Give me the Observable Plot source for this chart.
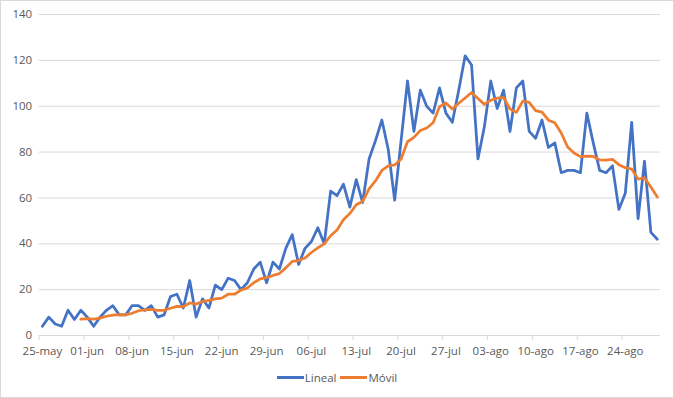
<!DOCTYPE html>
<html>
<head>
<meta charset="utf-8">
<script src="https://cdn.jsdelivr.net/npm/d3@7"></script>
<script src="https://cdn.jsdelivr.net/npm/@observablehq/plot@0.6"></script>
<style>
  html, body { margin: 0; padding: 0; background: #fff; }
  #chart { position: relative; width: 674px; height: 398px; outline: 1px solid #d9d9d9; outline-offset: -1px; background: #fff; font-family: "Open Sans", "Noto Sans", sans-serif; }
  #legend { position: absolute; left: 0; top: 369px; width: 674px; height: 16px; display: flex; justify-content: center; align-items: center; font-size: 11.5px; color: #595959; }
  .item { display: flex; align-items: center; margin: 0 2px; }
  .sw { width: 27px; height: 3px; margin-right: 1px; }
</style>
</head>
<body>
<div id="chart">
  <div id="legend"></div>
</div>
<script>
// Series names
const seriesNames = ["Lineal", "Móvil"];
const seriesColors = ["#4472C4", "#ED7D31"];

// Daily values from 25-may (one per day)
const lineal = [
  4, 8, 5, 4, 11, 7, 11, 8, 4, 8,
  11, 13, 9, 9, 13, 13, 11, 13, 8, 9,
  17, 18, 12, 24, 8, 16, 12, 22, 20, 25,
  24, 20, 23, 29, 32, 23, 32, 29, 38, 44,
  31, 38, 41, 47, 40, 63, 61, 66, 56, 68,
  58, 77, 85, 94, 81, 59, 85, 111, 89, 107,
  100, 97, 108, 97, 93, 107, 122, 118, 77, 91,
  111, 99, 107, 89, 108, 111, 89, 86, 94, 82,
  84, 71, 72, 72, 71, 97, 84, 72, 71, 74,
  55, 62, 93, 51, 76, 45, 42
];

// Moving average values, starting on the 7th day (31-may)
const movilOffset = 6;
const movil = [
  7.1, 7.4, 7.1, 7.6, 8.4, 8.9, 9.1, 9.0, 9.7, 10.8,
  11.2, 11.4, 11.0, 11.0, 11.9, 12.7, 12.6, 14.2, 13.7, 14.8,
  15.3, 16.0, 16.3, 18.0, 18.0, 19.8, 20.7, 23.0, 24.7, 25.2,
  26.2, 27.0, 29.5, 32.3, 32.7, 33.8, 36.2, 38.2, 40.0, 43.5,
  46.0, 50.5, 53.2, 57.0, 58.5, 64.0, 67.4, 72.0, 74.0, 74.4,
  77.0, 84.5, 86.4, 89.4, 90.5, 92.8, 99.8, 101.4, 98.8, 101.3,
  103.6, 106.0, 103.4, 100.8, 102.6, 103.5, 103.8, 98.8, 97.3, 102.2,
  101.7, 98.1, 97.4, 93.9, 92.8, 88.3, 82.2, 79.6, 78.0, 78.2,
  78.1, 76.6, 76.5, 76.8, 74.5, 73.2, 72.6, 68.2, 68.8, 64.8, 60.4
];

// Axis tick labels (weekly)
const xTickLabels = ["25-may","01-jun","08-jun","15-jun","22-jun","29-jun","06-jul","13-jul","20-jul","27-jul","03-ago","10-ago","17-ago","24-ago"];
const yTicks = [0, 20, 40, 60, 80, 100, 120, 140];

const DAY = 864e5;
const start = Date.UTC(2020, 4, 25);
const dateOf = i => new Date(start + i * DAY);

const linealData = lineal.map((v, i) => ({date: dateOf(i), value: v}));
const movilData = movil.map((v, i) => ({date: dateOf(i + movilOffset), value: v}));

const tickDates = xTickLabels.map((_, k) => dateOf(7 * k));
const labelMap = new Map(tickDates.map((d, k) => [+d, xTickLabels[k]]));
const boundaries = tickDates.map(d => new Date(+d - DAY / 2));

const plot = Plot.plot({
  width: 674,
  height: 362,
  marginLeft: 38.7,
  marginRight: 14,
  marginTop: 14,
  marginBottom: 27,
  style: {fontFamily: '"Open Sans", "Noto Sans", sans-serif', fontSize: "11.5px", color: "#595959", background: "transparent"},
  x: {type: "utc", domain: [new Date(start - DAY / 2), new Date(start + (lineal.length - 0.5) * DAY)]},
  y: {domain: [0, 140]},
  marks: [
    Plot.gridY(yTicks, {stroke: "#d9d9d9", strokeOpacity: 1}),
    Plot.axisY(yTicks, {tickSize: 0, tickPadding: 7, label: null, fill: "#595959"}),
    Plot.axisX(boundaries, {tickSize: 5, tickFormat: () => "", stroke: "#d9d9d9", label: null}),
    Plot.axisX(tickDates, {tickSize: 0, tickPadding: 11, tickFormat: d => labelMap.get(+d), label: null, fill: "#595959"}),
    Plot.lineY(linealData, {x: "date", y: "value", stroke: seriesColors[0], strokeWidth: 2.75, strokeLinejoin: "round", strokeLinecap: "round"}),
    Plot.lineY(movilData, {x: "date", y: "value", stroke: seriesColors[1], strokeWidth: 2.75, strokeLinejoin: "round", strokeLinecap: "round"})
  ]
});

const chart = document.getElementById("chart");
chart.insertBefore(plot, chart.firstChild);

const legend = document.getElementById("legend");
seriesNames.forEach((name, k) => {
  const item = document.createElement("div");
  item.className = "item";
  const sw = document.createElement("span");
  sw.className = "sw";
  sw.style.background = seriesColors[k];
  const label = document.createElement("span");
  label.textContent = name;
  item.appendChild(sw);
  item.appendChild(label);
  legend.appendChild(item);
});
</script>
</body>
</html>
